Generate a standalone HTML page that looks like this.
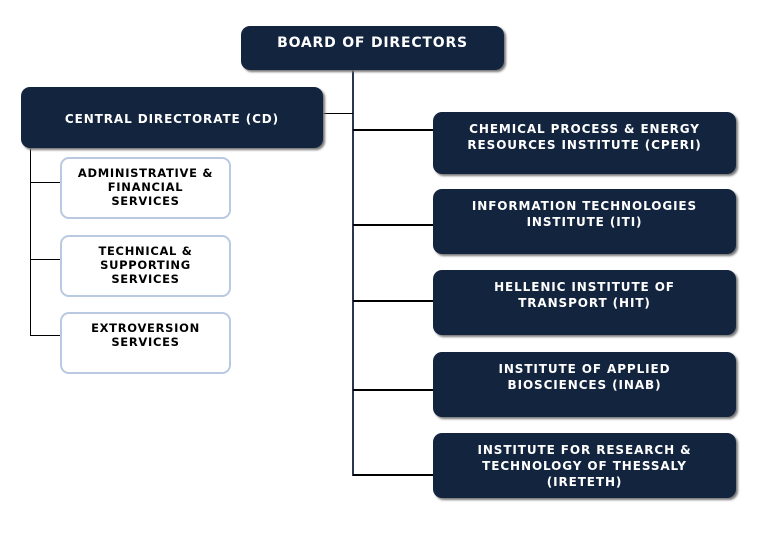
<!DOCTYPE html>
<html><head><style>
body{margin:0;width:764px;height:538px;background:#fff;position:relative;overflow:hidden;font-family:"DejaVu Sans","Liberation Sans",sans-serif;font-weight:bold}
.d{position:absolute;background:#13243f;color:#fff;border-radius:9px;box-shadow:2px 2px 2px #777;text-align:center;font-size:12px;line-height:16px;box-sizing:border-box;letter-spacing:0.9px}
.l{position:absolute;background:#fff;color:#000;border:2px solid #b9c9e2;border-radius:9px;text-align:center;font-size:11.5px;line-height:14px;box-sizing:border-box;padding-top:7px;letter-spacing:0.7px}
.h{position:absolute;height:1px;background:#000}
.v{position:absolute;width:2px;background:#2a3550}
</style></head><body>
<div class="v" style="left:352px;top:70px;height:406px"></div>
<div class="h" style="left:323px;top:113px;width:30px"></div>
<div class="h" style="left:353px;top:129px;width:80px;height:2px"></div>
<div class="h" style="left:353px;top:224px;width:80px;height:2px"></div>
<div class="h" style="left:353px;top:300px;width:80px;height:2px"></div>
<div class="h" style="left:353px;top:389px;width:80px;height:2px"></div>
<div class="h" style="left:353px;top:474px;width:80px;height:2px"></div>
<div class="h" style="left:30px;top:148px;width:1px;height:188px"></div>
<div class="h" style="left:30px;top:182px;width:30px"></div>
<div class="h" style="left:30px;top:259px;width:30px"></div>
<div class="h" style="left:30px;top:335px;width:30px"></div>

<div class="d" style="left:241px;top:26px;width:263px;height:44px;font-size:14px;padding-top:9px;letter-spacing:0.8px">BOARD OF DIRECTORS</div>
<div class="d" style="left:21px;top:87px;width:302px;height:61px;padding-top:24px">CENTRAL DIRECTORATE (CD)</div>

<div class="l" style="left:60px;top:157px;width:171px;height:62px">ADMINISTRATIVE &amp;<br>FINANCIAL<br>SERVICES</div>
<div class="l" style="left:60px;top:235px;width:171px;height:62px">TECHNICAL &amp;<br>SUPPORTING<br>SERVICES</div>
<div class="l" style="left:60px;top:312px;width:171px;height:62px">EXTROVERSION<br>SERVICES</div>

<div class="d" style="left:433px;top:112px;width:303px;height:62px;padding-top:9px">CHEMICAL PROCESS &amp; ENERGY<br>RESOURCES INSTITUTE (CPERI)</div>
<div class="d" style="left:433px;top:189px;width:303px;height:65px;padding-top:9px">INFORMATION TECHNOLOGIES<br>INSTITUTE (ITI)</div>
<div class="d" style="left:433px;top:270px;width:303px;height:65px;padding-top:9px">HELLENIC INSTITUTE OF<br>TRANSPORT (HIT)</div>
<div class="d" style="left:433px;top:352px;width:303px;height:65px;padding-top:9px">INSTITUTE OF APPLIED<br>BIOSCIENCES (INAB)</div>
<div class="d" style="left:433px;top:433px;width:303px;height:65px;padding-top:9px">INSTITUTE FOR RESEARCH &amp;<br>TECHNOLOGY OF THESSALY<br>(IRETETH)</div>
</body></html>
